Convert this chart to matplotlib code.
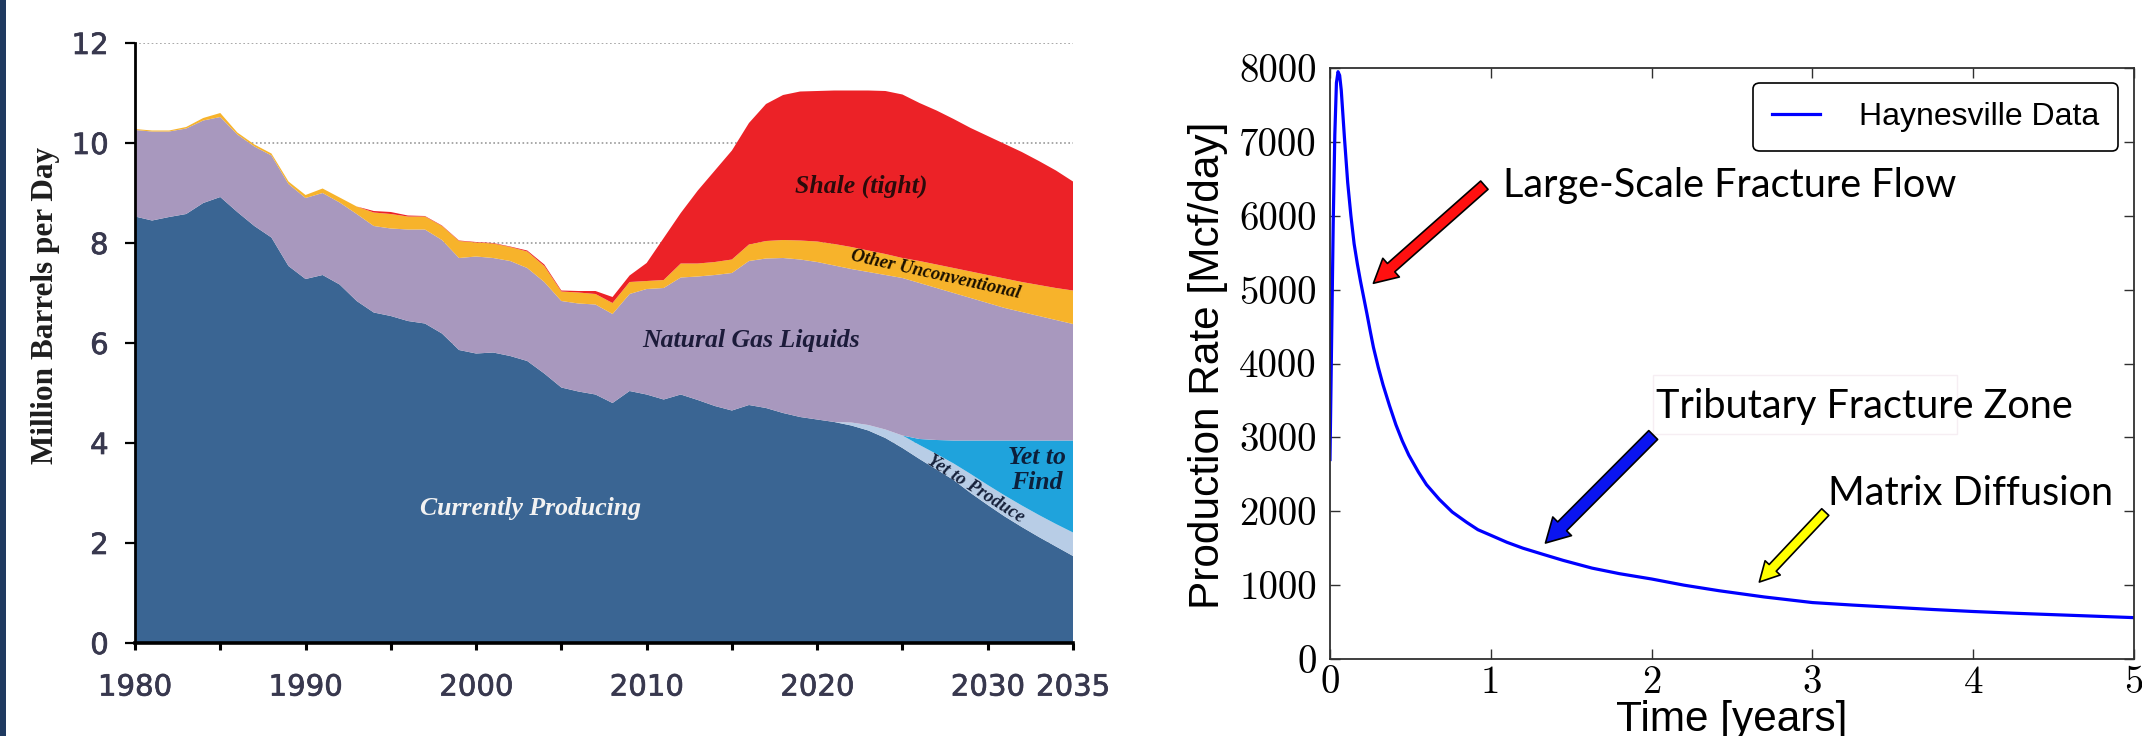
import matplotlib
matplotlib.use("Agg")
import matplotlib.pyplot as plt
import matplotlib.patheffects as pe
from matplotlib.patches import Rectangle

# ---------------- left panel: U.S. crude oil supply by source ----------------
years = list(range(1980, 2036))

currently_producing = [
    8.53, 8.45, 8.52, 8.58, 8.80, 8.92, 8.62, 8.34, 8.11, 7.54,
    7.28, 7.36, 7.17, 6.84, 6.61, 6.54, 6.44, 6.39, 6.19, 5.86,
    5.79, 5.81, 5.74, 5.64, 5.39, 5.11, 5.03, 4.97, 4.80, 5.04,
    4.97, 4.87, 4.97, 4.86, 4.74, 4.65, 4.76, 4.70, 4.60, 4.52,
    4.47, 4.42, 4.35, 4.25, 4.10, 3.90, 3.68, 3.47, 3.26, 3.00,
    2.76, 2.53, 2.32, 2.12, 1.93, 1.74,
]
yet_to_produce = [0.0] * 42 + [
    0.06, 0.11, 0.17, 0.25, 0.28, 0.31, 0.33, 0.38,
    0.40, 0.42, 0.43, 0.44, 0.45, 0.47,
]
yet_to_find = [0.0] * 46 + [
    0.12, 0.28, 0.46, 0.67, 0.89, 1.10, 1.30, 1.49, 1.67, 1.84,
]
natural_gas_liquids = [
    1.73, 1.78, 1.71, 1.71, 1.65, 1.60, 1.55, 1.59, 1.64, 1.64,
    1.62, 1.64, 1.64, 1.74, 1.73, 1.75, 1.83, 1.88, 1.87, 1.84,
    1.94, 1.89, 1.90, 1.86, 1.83, 1.73, 1.76, 1.80, 1.78, 1.94,
    2.11, 2.23, 2.34, 2.47, 2.62, 2.75, 2.88, 2.99, 3.10, 3.15,
    3.15, 3.13, 3.07, 3.06, 3.09, 3.15, 3.12, 3.04, 2.95, 2.85,
    2.75, 2.65, 2.57, 2.49, 2.41, 2.33,
]
other_unconventional = [
    0.02, 0.02, 0.02, 0.03, 0.05, 0.08, 0.04, 0.04, 0.04, 0.05,
    0.06, 0.09, 0.10, 0.15, 0.27, 0.29, 0.26, 0.26, 0.28, 0.34,
    0.28, 0.29, 0.28, 0.33, 0.32, 0.19, 0.22, 0.21, 0.22, 0.24,
    0.16, 0.16, 0.28, 0.26, 0.26, 0.27, 0.33, 0.35, 0.36, 0.38,
    0.41, 0.43, 0.44, 0.43, 0.42, 0.40, 0.44, 0.47, 0.50, 0.53,
    0.56, 0.59, 0.60, 0.62, 0.64, 0.67,
]
shale_tight = [
    0.00, 0.00, 0.00, 0.00, 0.00, 0.00, 0.00, 0.00, 0.00, 0.00,
    0.00, 0.00, 0.00, 0.00, 0.03, 0.04, 0.02, 0.01, 0.01, 0.01,
    0.01, 0.01, 0.01, 0.02, 0.03, 0.02, 0.03, 0.06, 0.12, 0.13,
    0.36, 0.84, 1.01, 1.46, 1.83, 2.18, 2.43, 2.74, 2.90, 2.98,
    3.01, 3.07, 3.13, 3.20, 3.26, 3.27, 3.16, 3.08, 2.98, 2.87,
    2.78, 2.69, 2.60, 2.48, 2.35, 2.18,
]

year_ticks = [1980, 1990, 2000, 2010, 2020, 2030, 2035]
year_minor_ticks = [1985, 1995, 2005, 2015, 2025]
barrel_ticks = [0, 2, 4, 6, 8, 10, 12]

# ---------------- right panel: Haynesville well decline ----------------
time_years = [0.0, 0.01, 0.02, 0.03, 0.04, 0.05, 0.06, 0.07, 0.09, 0.11,
              0.13, 0.15, 0.17, 0.19, 0.21, 0.23, 0.25, 0.27, 0.30, 0.33,
              0.37, 0.41, 0.45, 0.49, 0.55, 0.60, 0.68, 0.76, 0.85, 0.92,
              1.00, 1.10, 1.20, 1.32, 1.45, 1.63, 1.80, 2.00, 2.20, 2.42,
              2.70, 3.00, 3.25, 3.50, 3.75, 4.00, 4.25, 4.50, 4.75, 5.00]
production_rate = [2700, 4300, 5900, 7100, 7800, 7950, 7900, 7700, 7050, 6450,
                   6000, 5620, 5350, 5110, 4890, 4670, 4440, 4220, 3950, 3710,
                   3430, 3170, 2950, 2760, 2530, 2360, 2160, 1990, 1850, 1750,
                   1675, 1580, 1500, 1420, 1335, 1230, 1155, 1083, 1000, 924,
                   840, 764, 730, 700, 670, 643, 620, 600, 580, 560]
time_ticks = [0, 1, 2, 3, 4, 5]
rate_ticks = [0, 1000, 2000, 3000, 4000, 5000, 6000, 7000, 8000]

W, H = 2142, 736
fig = plt.figure(figsize=(W / 100, H / 100), dpi=100)
fig.patch.set_facecolor("white")
fig.patches.append(Rectangle((0, 0), 6 / W, 1, transform=fig.transFigure,
                             facecolor="#1f3a60", edgecolor="none", zorder=-1))

# ---- left axes ----
ax1 = fig.add_axes([135 / W, 1 - 643 / H, 938 / W, 600 / H])
layer_colors = ["#3a6593", "#b8cde6", "#1fa3dc", "#a898be", "#f7b32b", "#ec2227"]
ax1.stackplot(years, currently_producing, yet_to_produce, yet_to_find,
              natural_gas_liquids, other_unconventional, shale_tight,
              colors=layer_colors, linewidth=0)
ax1.set_xlim(1980, 2035)
ax1.set_ylim(0, 12)
ax1.set_axisbelow(True)
ax1.yaxis.grid(True, linestyle=(0, (1, 1.5)), color="#9a9a9a", linewidth=1.2)
for side in ("top", "right"):
    ax1.spines[side].set_visible(False)
ax1.spines["left"].set_linewidth(2.0)
ax1.spines["bottom"].set_linewidth(2.6)
ax1.set_yticks(barrel_ticks)
ax1.set_xticks(year_ticks)
ax1.set_xticks(year_minor_ticks, minor=True)
ax1.set_xticklabels([str(y) for y in year_ticks])
tick_color = "#38384e"
ax1.tick_params(axis="y", direction="out", length=7, width=1.6, pad=12,
                labelsize=21, labelcolor=tick_color)
ax1.tick_params(axis="x", which="both", direction="out", length=5, width=2.2,
                pad=17, labelsize=21, labelcolor=tick_color)
for lab in ax1.get_xticklabels() + ax1.get_yticklabels():
    lab.set_path_effects([pe.withStroke(linewidth=0.5, foreground=tick_color)])

fig.text(45 / W, 1 - 305 / H, "Million Barrels per Day", rotation=90,
         ha="center", va="center", fontfamily="Liberation Serif",
         fontweight="bold", fontsize=22.5, color="#1e1e1e")

serif_bi = dict(fontfamily="Liberation Serif", style="italic", fontweight="bold")
ax1.text(2022.6, 9.14, "Shale (tight)", ha="center", va="center",
         fontsize=18.5, color="#2b0b0b", **serif_bi)
ax1.text(2016.1, 6.04, "Natural Gas Liquids", ha="center", va="center",
         fontsize=18.5, color="#1c1b3a", **serif_bi)
ax1.text(2003.2, 2.70, "Currently Producing", ha="center", va="center",
         fontsize=18.5, color="#f2f2f2", **serif_bi)
ax1.text(2026.95, 7.36, "Other Unconventional", ha="center", va="center",
         rotation=-12.7, rotation_mode="anchor", fontsize=13.5,
         color="#1a1000", **serif_bi)
ax1.text(2032.9, 3.46, "Yet to\nFind", ha="center", va="center",
         multialignment="center", linespacing=1.15, fontsize=18.5,
         color="#0d1f3a", **serif_bi)
ax1.text(2029.3, 3.08, "Yet to Produce", ha="center", va="center",
         rotation=-32.4, rotation_mode="anchor", fontsize=13.5,
         color="#15203a", **serif_bi)

# ---- right axes ----
ax2 = fig.add_axes([1330 / W, 1 - 659 / H, 804 / W, 591 / H])
ax2.plot(time_years, production_rate, color="#0000ff", linewidth=2.3,
         label="Haynesville Data", solid_joinstyle="round")
ax2.set_xlim(0, 5)
ax2.set_ylim(0, 8000)
for sp in ax2.spines.values():
    sp.set_color("#303030")
    sp.set_linewidth(1.3)
ax2.set_xticks(time_ticks)
ax2.set_yticks(rate_ticks)
ax2.set_xticklabels([str(t) for t in time_ticks], fontfamily="cmr10", fontsize=28)
ax2.set_yticklabels([str(r) for r in rate_ticks], fontfamily="cmr10", fontsize=28)
ax2.tick_params(axis="both", direction="in", top=True, right=True,
                length=7, width=1.0, color="#303030")
ax2.tick_params(axis="y", pad=9.5)
ax2.tick_params(axis="x", pad=4.5)

fig.text(1208 / W, 1 - 365 / H, "Production Rate [Mcf/day]", rotation=90,
         ha="center", va="center", fontfamily="Liberation Sans",
         fontsize=30.5, color="black")
fig.text(1732 / W, 1 - 731 / H, "Time [years]", ha="center", va="baseline",
         fontfamily="Liberation Sans", fontsize=30.5, color="black")

leg = ax2.legend(loc="upper right", bbox_to_anchor=(0.9801, 0.9746),
                 borderaxespad=0, prop={"family": "Liberation Sans", "size": 23},
                 fancybox=True, framealpha=1, edgecolor="black",
                 handlelength=1.5, handletextpad=1.2, borderpad=0.6)
leg.get_frame().set_linewidth(1.2)

# faint frame behind the middle annotation
ax2.add_patch(Rectangle((2.01, 3045), 1.89, 798, facecolor="white",
                        edgecolor="#f6eef3", linewidth=1.0, zorder=2))

note_font = dict(fontfamily="Lato", fontsize=28.5, color="black", zorder=4)
ax2.text(1.076, 6414, "Large-Scale Fracture Flow", ha="left", va="center", **note_font)
ax2.text(2.027, 3424, "Tributary Fracture Zone", ha="left", va="center", **note_font)
ax2.text(3.097, 2246, "Matrix Diffusion", ha="left", va="center", **note_font)

ax2.annotate("", xy=(0.27, 5086), xytext=(0.96, 6414),
             arrowprops=dict(facecolor="#ff1010", edgecolor="black", width=8,
                             headwidth=18, headlength=17, shrink=0, lw=1.2))
ax2.annotate("", xy=(1.34, 1570), xytext=(2.01, 3032),
             arrowprops=dict(facecolor="#0a14f0", edgecolor="black", width=9,
                             headwidth=19, headlength=17, shrink=0, lw=1.2))
ax2.annotate("", xy=(2.67, 1042), xytext=(3.08, 1989),
             arrowprops=dict(facecolor="#ffff00", edgecolor="black", width=7,
                             headwidth=15, headlength=14, shrink=0, lw=1.2))

fig.savefig("out.png", dpi=100)
